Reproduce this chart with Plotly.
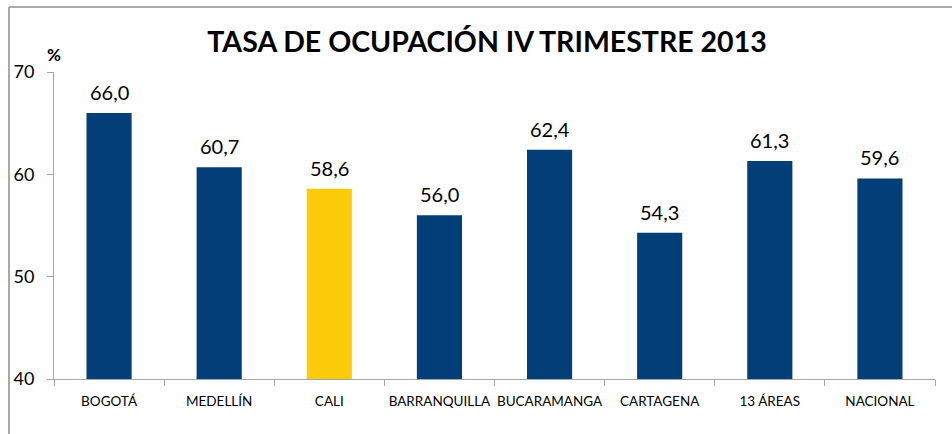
import plotly.graph_objects as go

categories = ["BOGOTÁ", "MEDELLÍN", "CALI", "BARRANQUILLA", "BUCARAMANGA", "CARTAGENA", "13 ÁREAS", "NACIONAL"]
values = [66.0, 60.7, 58.6, 56.0, 62.4, 54.3, 61.3, 59.6]
bar_colors = ["#023E77", "#023E77", "#FCCB0A", "#023E77", "#023E77", "#023E77", "#023E77", "#023E77"]
labels = [f"{v:.1f}".replace(".", ",") for v in values]

W, H = 952, 434
L, R, T, B = 54, 17, 72, 55
FONT = "Lato"

fig = go.Figure(go.Bar(
    x=categories, y=values, marker=dict(color=bar_colors, line=dict(width=0)),
    hoverinfo="skip",
))

for c, v, t in zip(categories, values, labels):
    fig.add_annotation(x=c, y=v, text=t, showarrow=False, xref="x", yref="y",
                       yanchor="bottom", yshift=7,
                       font=dict(size=20, color="#000000", family=FONT))

fig.update_layout(
    width=W, height=H, margin=dict(l=L, r=R, t=T, b=B, autoexpand=False),
    paper_bgcolor="white", plot_bgcolor="white",
    bargap=0.59, showlegend=False,
    font=dict(family=FONT, color="#000000"),
    title=dict(text="<b>TASA DE OCUPACIÓN IV TRIMESTRE 2013</b>",
               x=487 / W, xanchor="center", y=1 - 42 / H, yanchor="middle",
               font=dict(size=28.5, family=FONT, color="#000000")),
)
fig.update_yaxes(range=[40, 70], tickvals=[40, 50, 60, 70], showgrid=False,
                 showline=True, linecolor="#A6A6A6", linewidth=1,
                 ticks="outside", ticklen=6, tickcolor="#A6A6A6",
                 ticklabelstandoff=9,
                 tickfont=dict(size=18, family=FONT), zeroline=False,
                 automargin=False)
fig.update_xaxes(showline=True, linecolor="#A6A6A6", linewidth=1,
                 ticks="outside", ticklen=6, tickcolor="#A6A6A6",
                 tickson="boundaries", tickangle=0, automargin=False,
                 ticklabelstandoff=10,
                 tickfont=dict(size=13.5, family=FONT))

fig.add_annotation(text="<b>%</b>", xref="paper", yref="paper",
                   x=0, y=1, xanchor="center", yanchor="bottom", yshift=5,
                   showarrow=False, font=dict(size=17, family=FONT))

# frame border (top and left edges visible)
pw, ph = W - L - R, H - T - B
fig.add_shape(type="line", xref="paper", yref="paper",
              x0=(9 - L) / pw, x1=(W - L) / pw,
              y0=1 + (T - 7) / ph, y1=1 + (T - 7) / ph,
              line=dict(color="#8C8C8C", width=1.5))
fig.add_shape(type="line", xref="paper", yref="paper",
              x0=(9 - L) / pw, x1=(9 - L) / pw,
              y0=1 + (T - 7) / ph, y1=-B / ph,
              line=dict(color="#8C8C8C", width=1.5))

fig.write_html("out.html", config={"displayModeBar": False},
               post_script="document.body.style.margin='0';document.body.style.overflow='hidden';")
